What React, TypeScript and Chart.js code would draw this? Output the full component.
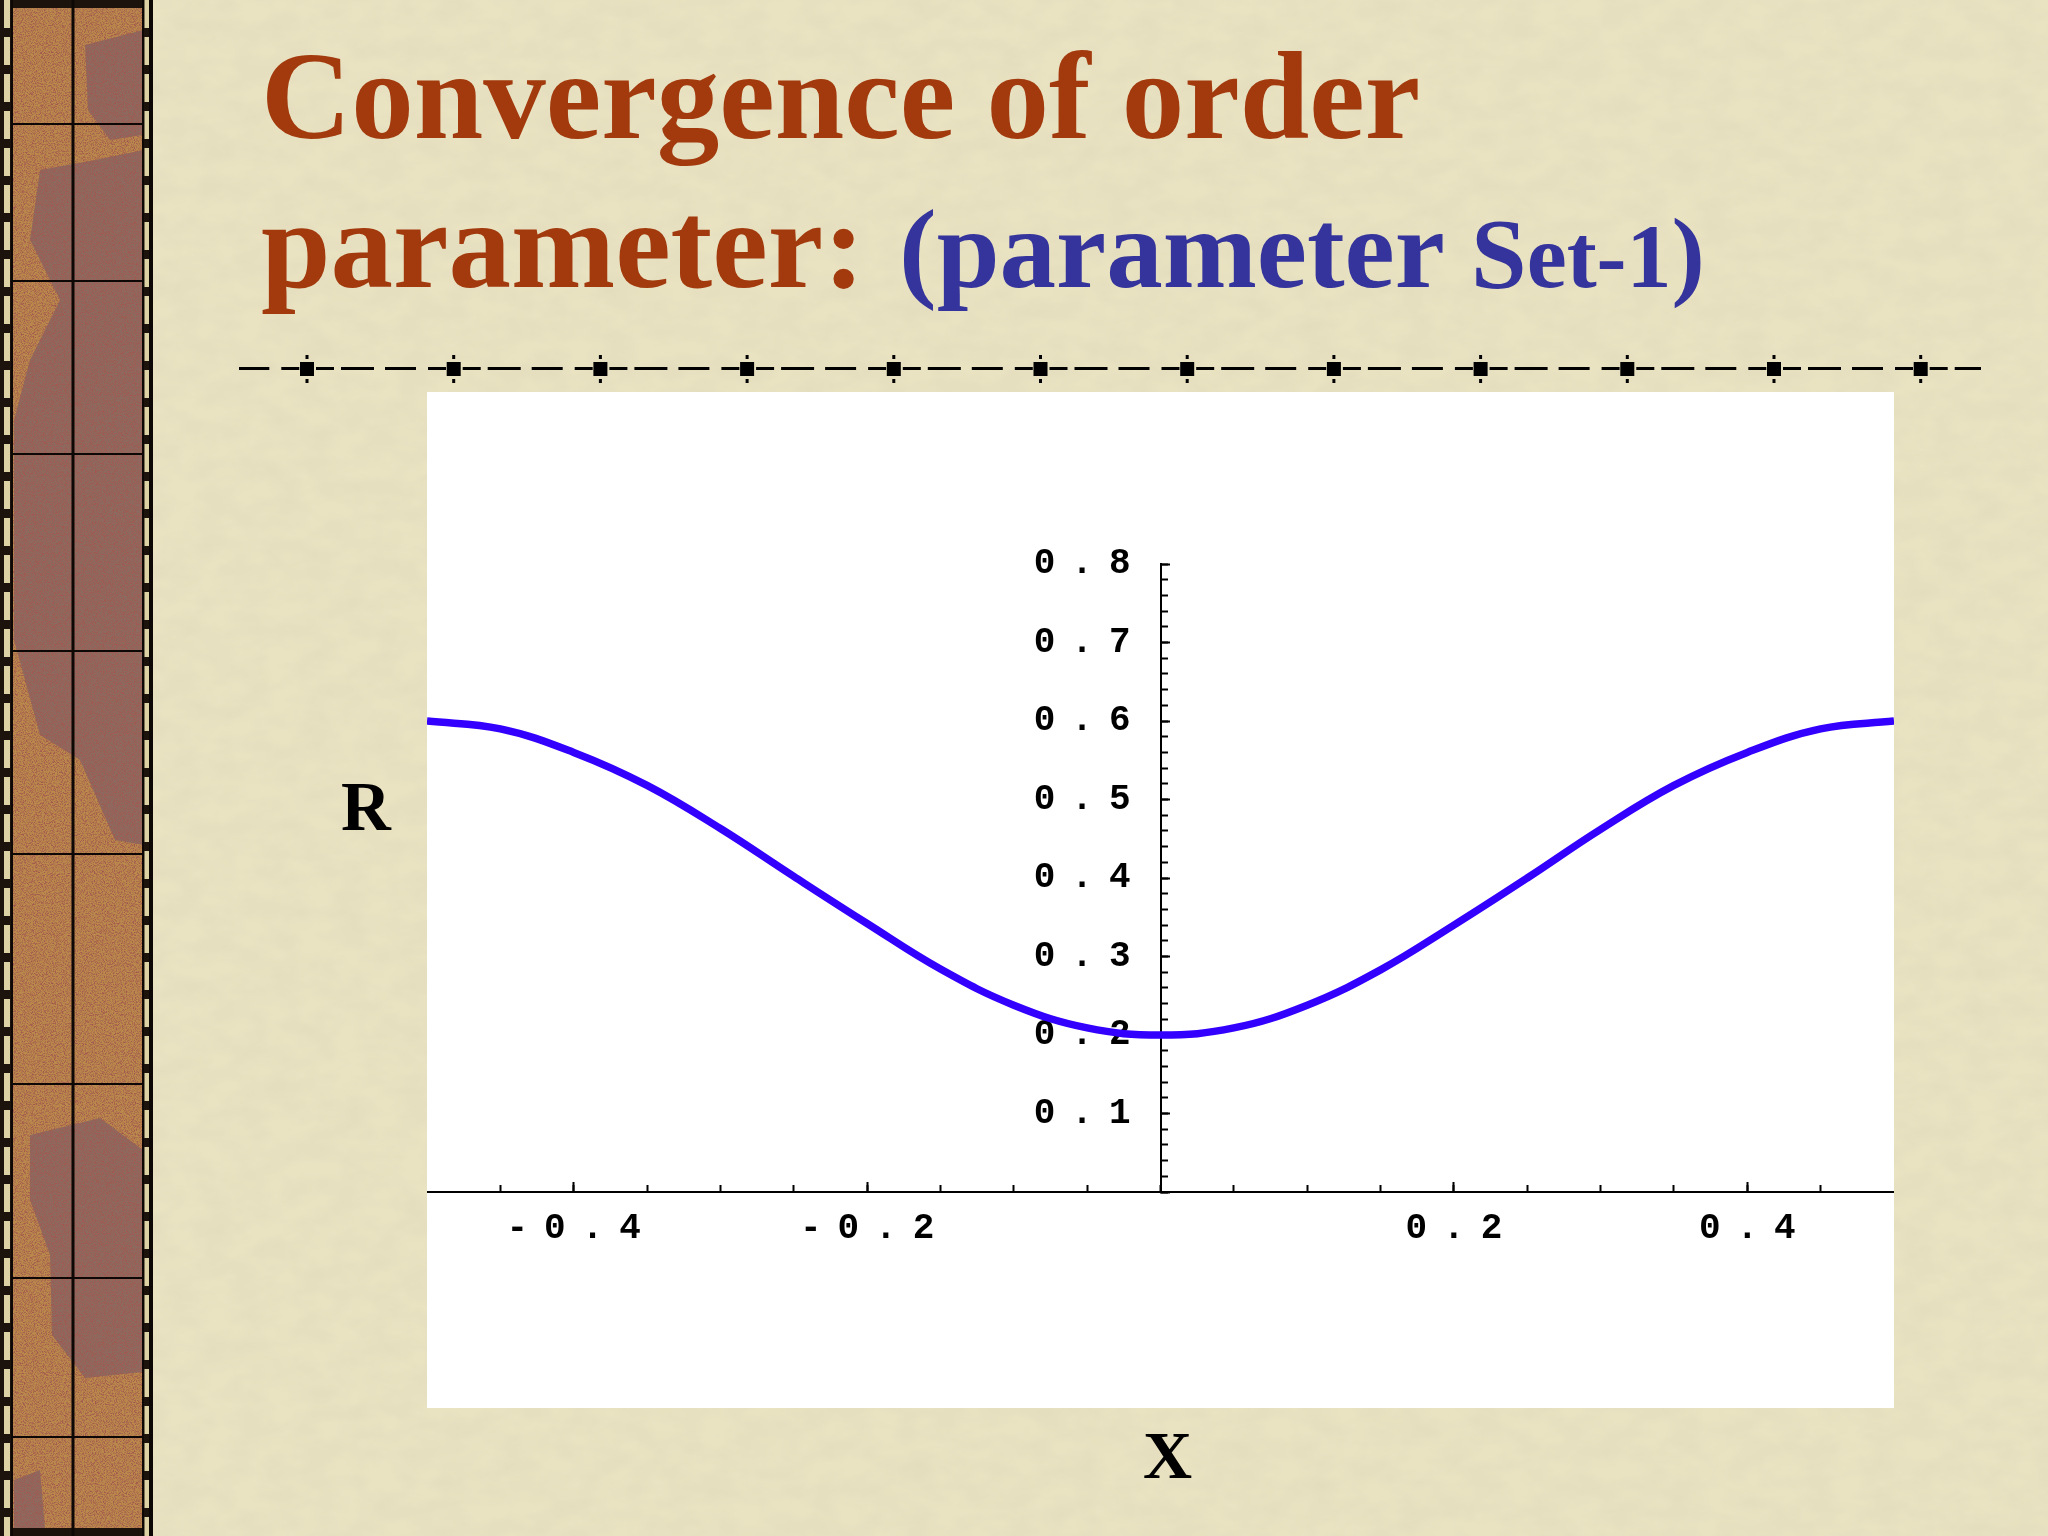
import React, { useEffect, useRef } from 'react';
import { Chart, registerables } from 'chart.js';

Chart.register(...registerables);

// ---- data ----
const xValues = [-0.5, -0.45, -0.4, -0.35, -0.3, -0.25, -0.2, -0.15, -0.1, -0.05, 0, 0.05, 0.1, 0.15, 0.2, 0.25, 0.3, 0.35, 0.4, 0.45, 0.5];
const rValues = [0.6, 0.59, 0.56, 0.518, 0.463, 0.402, 0.342, 0.284, 0.238, 0.209, 0.2, 0.209, 0.238, 0.283, 0.34, 0.4, 0.462, 0.518, 0.56, 0.59, 0.6];
const xTickLabels = ['-0.4', '-0.2', '0.2', '0.4'];
const yTickLabels = ['0.1', '0.2', '0.3', '0.4', '0.5', '0.6', '0.7', '0.8'];
const xRange = [-0.5, 0.5];
const yRange = [0, 0.8];
const xMajorStep = 0.1;
const xMinorStep = 0.05;
const yMajorStep = 0.1;
const yMinorStep = 0.02;
const titleLine1 = 'Convergence of order';
const titleLine2a = 'parameter:';
const titleLine2b = '(parameter ';
const titleLine2c = 'S';
const titleLine2d = 'et-1';
const titleLine2e = ')';
const yAxisTitle = 'R';
const xAxisTitle = 'X';

const tickFont = { family: "'Liberation Mono', 'Courier New', monospace", size: 36, weight: 'bold' as const };
const transparent = 'rgba(0,0,0,0)';

const spacingPlugin = {
  id: 'tickLetterSpacing',
  beforeDraw(chart: any) {
    chart.ctx.letterSpacing = '16px';
  },
  beforeDatasetsDraw(chart: any) {
    chart.ctx.letterSpacing = '0px';
  },
};

function PlotCanvas() {
  const ref = useRef<HTMLCanvasElement | null>(null);
  useEffect(() => {
    if (!ref.current) return;
    const fx = (v: number) => (Math.abs(v) < 1e-9 ? 0 : v).toFixed(1);
    const chart = new Chart(ref.current, {
      type: 'line',
      data: {
        datasets: [
          {
            data: xValues.map((x, i) => ({ x, y: rValues[i] })),
            borderColor: '#3300ff',
            borderWidth: 7.5,
            pointRadius: 0,
            fill: false,
            tension: 0.4,
            xAxisID: 'x',
            yAxisID: 'y',
          },
        ],
      },
      options: {
        animation: false,
        responsive: false,
        devicePixelRatio: 1,
        layout: { padding: { top: 172, bottom: 216, left: 0, right: 0 } },
        plugins: { legend: { display: false }, tooltip: { enabled: false }, title: { display: false } },
        scales: {
          x: {
            type: 'linear',
            axis: 'x',
            min: xRange[0],
            max: xRange[1],
            position: { y: 0 } as any,
            border: { display: true, color: '#000', width: 2 },
            grid: {
              drawOnChartArea: false,
              drawTicks: true,
              tickLength: -11,
              tickWidth: 2,
              tickColor: (c: any) => (c.tick && xTickLabels.includes(fx(c.tick.value)) ? '#000' : transparent),
            },
            ticks: { stepSize: xMajorStep, autoSkip: false, display: false, maxRotation: 0, padding: 0 },
          },
          xm: {
            type: 'linear',
            axis: 'x',
            min: xRange[0],
            max: xRange[1],
            position: { y: 0 } as any,
            border: { display: false },
            grid: {
              drawOnChartArea: false,
              drawTicks: true,
              tickLength: -7,
              tickWidth: 2,
              tickColor: (c: any) => (c.tick && Math.abs(c.tick.value) > 0.49 ? transparent : '#000'),
            },
            ticks: { stepSize: xMinorStep, autoSkip: false, display: false, maxRotation: 0, padding: 0 },
          },
          xl: {
            type: 'linear',
            axis: 'x',
            min: xRange[0],
            max: xRange[1],
            position: { y: -0.0191 } as any,
            border: { display: false },
            grid: { display: false, drawTicks: false },
            ticks: {
              stepSize: xMajorStep,
              autoSkip: false,
              maxRotation: 0,
              padding: 0,
              labelOffset: 8,
              color: '#000',
              font: tickFont,
              callback: (v: any) => (xTickLabels.includes(fx(Number(v))) ? fx(Number(v)) : ''),
            },
          },
          y: {
            type: 'linear',
            axis: 'y',
            min: yRange[0],
            max: yRange[1],
            position: { x: 0 } as any,
            border: { display: true, color: '#000', width: 2 },
            grid: { drawOnChartArea: false, drawTicks: true, tickLength: -10, tickWidth: 2, tickColor: '#000' },
            ticks: { stepSize: yMajorStep, autoSkip: false, display: false },
          },
          ym: {
            type: 'linear',
            axis: 'y',
            min: yRange[0],
            max: yRange[1],
            position: { x: 0 } as any,
            border: { display: false },
            grid: { drawOnChartArea: false, drawTicks: true, tickLength: -7, tickWidth: 2, tickColor: '#000' },
            ticks: { stepSize: yMinorStep, autoSkip: false, display: false },
          },
          yl: {
            type: 'linear',
            axis: 'y',
            min: yRange[0],
            max: yRange[1],
            position: { x: -0.0095 } as any,
            border: { display: false },
            grid: { display: false },
            ticks: {
              stepSize: yMajorStep,
              autoSkip: false,
              color: '#000',
              font: tickFont,
              callback: (v: any) => (yTickLabels.includes(fx(Number(v))) ? fx(Number(v)) : ''),
            },
          },
        },
      } as any,
      plugins: [spacingPlugin],
    });
    return () => chart.destroy();
  }, []);
  return (
    <canvas
      ref={ref}
      width={1467}
      height={1016}
      style={{ position: 'absolute', left: 427, top: 392, width: 1467, height: 1016, background: '#ffffff' }}
    />
  );
}

const stripLines = [124, 281, 454, 651, 854, 1084, 1278, 1437];
const markerCenters = Array.from({ length: 13 }, (_, k) => 307 + (k - 1) * 146.7);
const dashSegs = [
  [9, 27],
  [34, 67],
  [78, 109],
  [121, 139],
];

function Decorations() {
  const serif = "'Liberation Serif', 'Times New Roman', serif";
  const brown = '#A23A0D';
  const blue = '#34349C';
  return (
    <svg width={2048} height={1536} style={{ position: 'absolute', left: 0, top: 0 }}>
      <defs>
        <filter id="noise" x="0" y="0" width="100%" height="100%">
          <feTurbulence type="fractalNoise" baseFrequency="1.1" numOctaves="2" seed="3" />
          <feColorMatrix type="matrix" values="0 0 0 0 0.3  0 0 0 0 0.05  0 0 0 0 0.05  0 0 0 3 -1.25" />
        </filter>
        <filter id="noise2" x="0" y="0" width="100%" height="100%">
          <feTurbulence type="fractalNoise" baseFrequency="1.0" numOctaves="1" seed="11" />
          <feColorMatrix type="matrix" values="0 0 0 0 0.85  0 0 0 0 0.65  0 0 0 0 0.35  0 0 0 3 -1.35" />
        </filter>
        <filter id="paper" x="0" y="0" width="100%" height="100%">
          <feTurbulence type="fractalNoise" baseFrequency="0.03 0.05" numOctaves="3" seed="7" />
          <feColorMatrix type="matrix" values="0 0 0 0 0.6  0 0 0 0 0.56  0 0 0 0 0.42  0 0 0 0.35 -0.1" />
        </filter>
        <clipPath id="dashClip">
          <rect x={239} y={340} width={1742} height={60} />
        </clipPath>
      </defs>
      <rect x={0} y={0} width={2048} height={1536} fill="#EAE3C2" />
      <rect x={0} y={0} width={2048} height={1536} filter="url(#paper)" />

      {/* left decorative strip */}
      <rect x={0} y={0} width={153} height={1536} fill="#1c130c" />
      <line x1={7} y1={0} x2={7} y2={1536} stroke="#DCD2A4" strokeWidth={6} strokeDasharray="28 9" />
      <line x1={147} y1={0} x2={147} y2={1536} stroke="#DCD2A4" strokeWidth={5} strokeDasharray="28 9" />
      <rect x={12} y={8} width={131} height={1520} fill="#B07C3C" />
      <g fill="#7B5753">
        <polygon points="85,45 143,30 143,135 110,140 88,110" />
        <polygon points="40,170 95,160 143,150 143,845 115,840 80,760 40,735 14,640 14,420 30,360 60,300 30,240" />
        <polygon points="30,1135 100,1118 143,1150 143,1372 85,1378 52,1335 50,1255 30,1200" />
        <polygon points="14,1480 40,1470 45,1528 14,1528" />
      </g>
      <rect x={12} y={8} width={131} height={1520} filter="url(#noise)" />
      <rect x={12} y={8} width={131} height={1520} filter="url(#noise2)" />
      <g stroke="#0d0805">
        <line x1={12} y1={0} x2={12} y2={1536} strokeWidth={2} />
        <line x1={73} y1={0} x2={73} y2={1536} strokeWidth={3} />
        <line x1={143} y1={0} x2={143} y2={1536} strokeWidth={2} />
        <line x1={151} y1={0} x2={151} y2={1536} strokeWidth={4} />
        {stripLines.map((y) => (
          <line key={y} x1={12} y1={y} x2={143} y2={y} strokeWidth={2} />
        ))}
      </g>

      {/* title */}
      <text x={261} y={138} fontFamily={serif} fontWeight="bold" fontSize={125} fill={brown}>
        {titleLine1}
      </text>
      <text x={261} y={287} fontFamily={serif} fontWeight="bold" fontSize={125} fill={brown}>
        {titleLine2a}
      </text>
      <text x={899} y={287} fontFamily={serif} fontWeight="bold" fill={blue}>
        <tspan fontSize={113}>{titleLine2b}</tspan>
        <tspan fontSize={100}>{titleLine2c}</tspan>
        <tspan fontSize={90}>{titleLine2d}</tspan>
        <tspan fontSize={100}>{titleLine2e}</tspan>
      </text>

      {/* separator */}
      <g clipPath="url(#dashClip)" fill="#000">
        {markerCenters.map((c, i) => (
          <g key={i}>
            <rect x={c - 7} y={362} width={14} height={14} />
            <rect x={c - 1.5} y={355} width={3} height={4} />
            <rect x={c - 1.5} y={379} width={3} height={4} />
            {dashSegs.map(([a, b], j) => (
              <rect key={j} x={c + a} y={367} width={b - a} height={3} />
            ))}
          </g>
        ))}
      </g>

      {/* axis names */}
      <text x={341} y={830} fontFamily={serif} fontWeight="bold" fontSize={69} fill="#000">
        {yAxisTitle}
      </text>
      <text x={1143} y={1478} fontFamily={serif} fontWeight="bold" fontSize={68} fill="#000">
        {xAxisTitle}
      </text>
    </svg>
  );
}

export default function App() {
  return (
    <div style={{ position: 'absolute', left: 0, top: 0, width: 2048, height: 1536, overflow: 'hidden' }}>
      <Decorations />
      <PlotCanvas />
    </div>
  );
}
